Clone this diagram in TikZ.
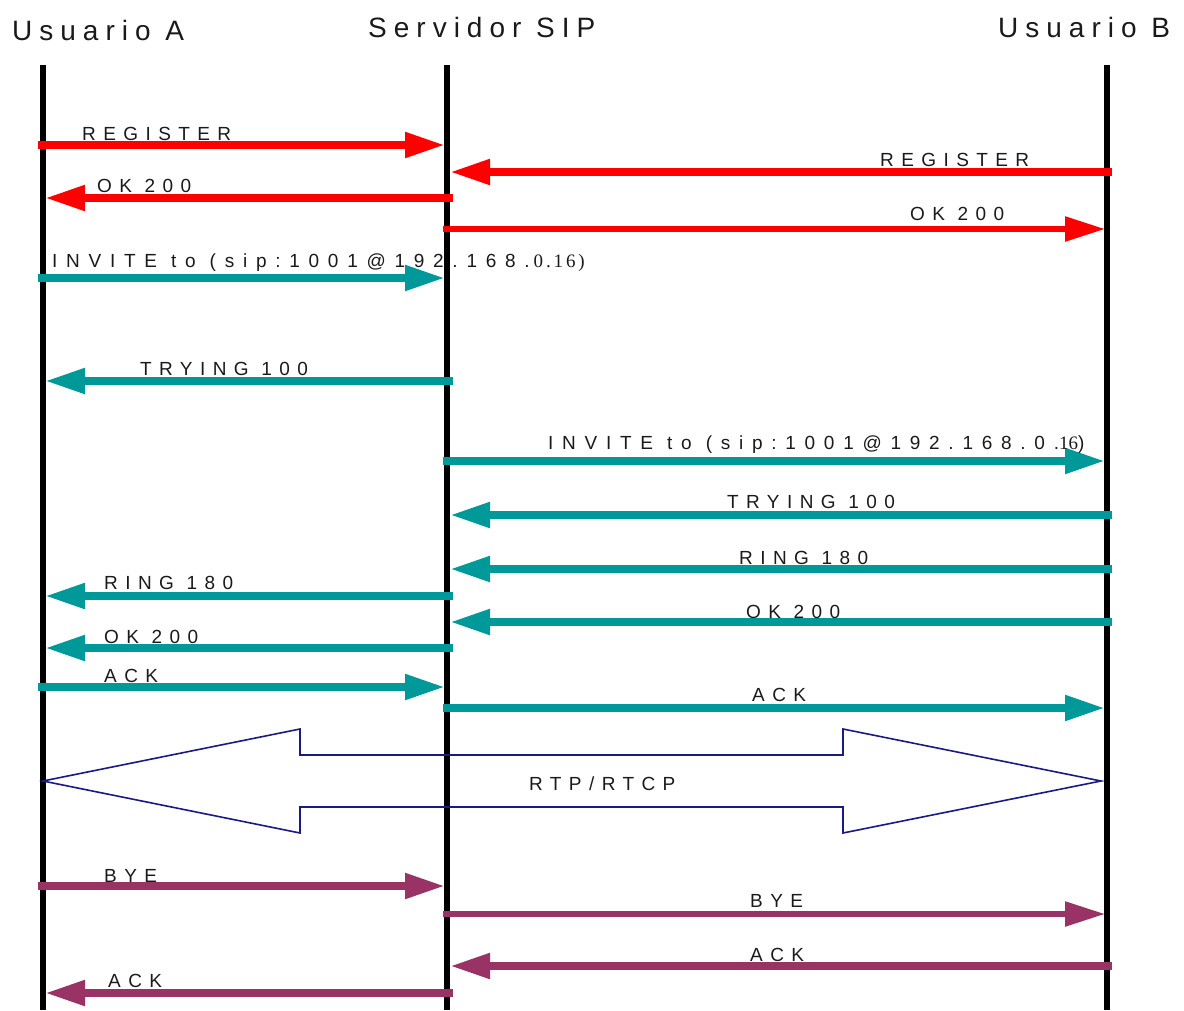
\documentclass[tikz,border=0pt]{standalone}
\usepackage{fontspec}
\usetikzlibrary{arrows.meta}
\newfontfamily\lblfont[LetterSpace=39]{Liberation Sans}
\newfontfamily\invfont[LetterSpace=46]{Liberation Sans}
\newfontfamily\hdrfont[LetterSpace=25]{Liberation Sans}
\newfontfamily\serfont[LetterSpace=15]{Liberation Serif}
\newfontfamily\sertight{Liberation Serif}
\definecolor{sipred}{HTML}{FF0000}
\definecolor{sipteal}{HTML}{009999}
\definecolor{sippurple}{HTML}{993366}
\definecolor{sipnavy}{HTML}{1A1A85}
\definecolor{siptext}{HTML}{1A1A1A}
\tikzset{
  lifeline/.style={line width=6pt, black},
  msg/.style={line width=8pt, -{Triangle[length=40pt,width=24pt]}},
  thinmsg/.style={line width=5.5pt, -{Triangle[length=40pt,width=24pt]}},
  lbl/.style={anchor=base west, inner sep=0pt, text=siptext, font=\lblfont\fontsize{19}{22}\selectfont},
  invlbl/.style={anchor=base west, inner sep=0pt, text=siptext, font=\invfont\fontsize{19}{22}\selectfont},
  hdr/.style={anchor=base west, inner sep=0pt, text=siptext, font=\hdrfont\fontsize{28}{32}\selectfont},
  rtp/.style={draw=sipnavy, line width=1.6pt, line join=miter}
}
\begin{document}
\begin{tikzpicture}[x=1pt,y=-1pt]
\useasboundingbox (0,0) rectangle (1184,1010);
% headers
\node[hdr] (hA) at (12,40) {Usuario A};
\node[hdr] (hS) at (368,37) {Servidor SIP};
\node[hdr] (hB) at (998,37) {Usuario B};
% lifelines
\coordinate (At) at (43,65); \coordinate (Ab) at (43,1010);
\coordinate (St) at (447,65); \coordinate (Sb) at (447,1010);
\coordinate (Bt) at (1107,65); \coordinate (Bb) at (1107,1010);
\draw[lifeline] (At) -- (Ab);
\draw[lifeline] (St) -- (Sb);
\draw[lifeline] (Bt) -- (Bb);
% endpoints
\foreach \n/\y in {1/145,3/198,5/278,6/381,10/596,12/648,13/687,16/886,19/993}{
  \coordinate (a\n) at (38,\y); \coordinate (aa\n) at (45,\y);
  \coordinate (s\n) at (445,\y); \coordinate (ss\n) at (453,\y);
}
\foreach \n/\y in {2/172,4/229,7/461,8/515,9/569,11/622,14/708,17/914,18/966}{
  \coordinate (t\n) at (443,\y); \coordinate (tt\n) at (450,\y);
  \coordinate (b\n) at (1105,\y); \coordinate (bb\n) at (1112,\y);
}
% red
\draw[msg, sipred] (a1) -- (s1);
\draw[msg, sipred] (bb2) -- (tt2);
\draw[msg, sipred] (ss3) -- (aa3);
\draw[thinmsg, sipred] (t4) -- (b4);
% teal
\draw[msg, sipteal] (a5) -- (s5);
\draw[msg, sipteal] (ss6) -- (aa6);
\draw[msg, sipteal] (t7) -- (b7);
\draw[msg, sipteal] (bb8) -- (tt8);
\draw[msg, sipteal] (bb9) -- (tt9);
\draw[msg, sipteal] (ss10) -- (aa10);
\draw[msg, sipteal] (bb11) -- (tt11);
\draw[msg, sipteal] (ss12) -- (aa12);
\draw[msg, sipteal] (a13) -- (s13);
\draw[msg, sipteal] (t14) -- (b14);
% purple
\draw[msg, sippurple] (a16) -- (s16);
\draw[thinmsg, sippurple] (t17) -- (b17);
\draw[msg, sippurple] (bb18) -- (tt18);
\draw[msg, sippurple] (ss19) -- (aa19);
% RTP double arrow
\draw[rtp] (43,781) -- (300,729) -- (300,755) -- (843,755) -- (843,729) -- (1101,781)
  -- (843,833) -- (843,807) -- (300,807) -- (300,833) -- cycle;
% labels
\node[lbl] (l1) at (82,140) {REGISTER};
\node[lbl] (l2) at (880,166) {REGISTER};
\node[lbl] (l3) at (97,192) {OK 200};
\node[lbl] (l4) at (910,220) {OK 200};
\node[invlbl] (l5) at (52,267) {INVITE to (sip:1001@192.168.\hspace{4pt}{\serfont\fontsize{19}{22}\selectfont 0.16)}};
\node[lbl] (l6) at (140,375) {TRYING 100};
\node[invlbl] (l7) at (548,449) {INVITE to (sip:1001@192.168.0.{\sertight\fontsize{19}{22}\selectfont 16})};
\node[lbl] (l8) at (727,508) {TRYING 100};
\node[lbl] (l9) at (739,564) {RING 180};
\node[lbl] (l10) at (104,589) {RING 180};
\node[lbl] (l11) at (746,618) {OK 200};
\node[lbl] (l12) at (104,643) {OK 200};
\node[lbl] (l13) at (104,682) {ACK};
\node[lbl] (l14) at (752,701) {ACK};
\node[lbl] (l15) at (529,790) {RTP/RTCP};
\node[lbl] (l16) at (104,882) {BYE};
\node[lbl] (l17) at (750,907) {BYE};
\node[lbl] (l18) at (750,961) {ACK};
\node[lbl] (l19) at (108,987) {ACK};
\end{tikzpicture}
\end{document}
